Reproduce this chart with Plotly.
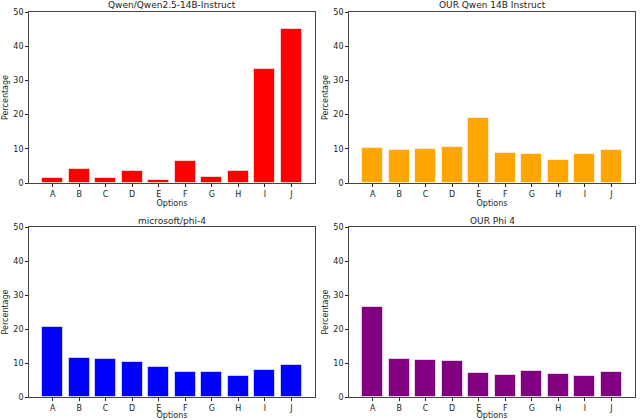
import plotly.graph_objects as go
from plotly.subplots import make_subplots

options = ["A", "B", "C", "D", "E", "F", "G", "H", "I", "J"]

qwen_base = [1.4, 4.1, 1.4, 3.5, 1.0, 6.3, 1.7, 3.4, 33.2, 45.0]
qwen_ours = [10.2, 9.7, 10.0, 10.5, 18.9, 8.7, 8.5, 6.6, 8.4, 9.7]
phi_base = [20.7, 11.4, 11.1, 10.2, 8.7, 7.4, 7.4, 6.2, 7.8, 9.4]
phi_ours = [26.5, 11.1, 11.0, 10.5, 7.1, 6.5, 7.7, 6.7, 6.1, 7.4]

titles = ["Qwen/Qwen2.5-14B-Instruct", "OUR Qwen 14B Instruct", "microsoft/phi-4", "OUR Phi 4"]
colors = ["red", "orange", "blue", "purple"]
series = [qwen_base, qwen_ours, phi_base, phi_ours]

W, H = 640, 420
# panel boxes in pixels: (left, right, top, bottom)
boxes = [(29, 315, 12, 183), (349, 635, 12, 183), (29, 315, 227, 397), (349, 635, 227, 397)]

fig = make_subplots(rows=2, cols=2)
font = "DejaVu Sans, sans-serif"

for i, (vals, col, ttl, box) in enumerate(zip(series, colors, titles, boxes)):
  r, c = i // 2 + 1, i % 2 + 1
  fig.add_trace(go.Bar(x=list(range(len(options))), y=vals, width=0.8,
                       marker=dict(color=col, line=dict(color="rgba(255,255,255,0.6)", width=1)),
                       showlegend=False), row=r, col=c)
  l, rr, t, b = box
  n = "" if i == 0 else str(i + 1)
  fig.layout["xaxis" + n].domain = [l / W, rr / W]
  fig.layout["yaxis" + n].domain = [1 - b / H, 1 - t / H]
  fig.update_xaxes(range=[-0.89, 9.89], tickvals=list(range(10)), ticktext=options,
                   ticks="outside", ticklen=3, tickwidth=0.8, tickcolor="#222",
                   showline=True, linecolor="#444", linewidth=0.8, mirror=True,
                   showgrid=False, zeroline=False, automargin=False,
                   tickfont=dict(size=8, color="#222", family=font),
                   title=dict(text="Options", font=dict(size=8, color="#222", family=font), standoff=2),
                   row=r, col=c)
  fig.update_yaxes(range=[0, 50], tickvals=[0, 10, 20, 30, 40, 50],
                   ticks="outside", ticklen=3, tickwidth=0.8, tickcolor="#222",
                   showline=True, linecolor="#444", linewidth=0.8, mirror=True,
                   showgrid=False, zeroline=False, automargin=False,
                   tickfont=dict(size=8, color="#222", family=font),
                   title=dict(text="Percentage", font=dict(size=8, color="#222", family=font), standoff=3),
                   row=r, col=c)
  fig.add_annotation(text=ttl, x=(l + rr) / 2 / W, y=1 - (t - 6.5) / H, xref="paper", yref="paper",
                     xanchor="center", yanchor="middle", showarrow=False,
                     font=dict(size=9, color="#222", family=font))

fig.update_layout(width=W, height=H, margin=dict(l=0, r=0, t=0, b=0),
                  plot_bgcolor="white", paper_bgcolor="white", bargap=0)

# page body has a default 8px margin, drop it so the figure fills the window
fig.write_html("out.html", config={"displayModeBar": False},
               post_script="document.body.style.margin='0';")
